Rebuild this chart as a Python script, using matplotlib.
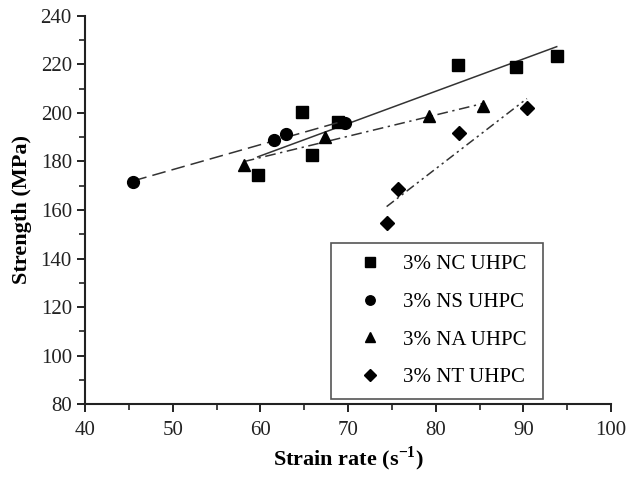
import matplotlib
matplotlib.use("Agg")
import matplotlib.pyplot as plt
import numpy as np
from matplotlib.ticker import MultipleLocator

plt.rcParams['font.family'] = ['Liberation Serif', 'DejaVu Serif']
plt.rcParams['mathtext.fontset'] = 'custom'
plt.rcParams['mathtext.rm'] = 'Liberation Serif'
plt.rcParams['mathtext.bf'] = 'Liberation Serif:bold'

# strain rate (1/s) and dynamic strength (MPa) for each mix
nc_rate = [59.7, 64.8, 65.9, 68.9, 82.5, 89.1, 93.8]
nc_strength = [174.5, 200.3, 182.5, 196.2, 219.6, 218.7, 223.3]
ns_rate = [45.5, 61.6, 62.9, 69.7]
ns_strength = [171.6, 188.6, 191.1, 195.9]
na_rate = [58.1, 67.4, 79.2, 85.4]
na_strength = [178.5, 190.1, 198.6, 203.0]
nt_rate = [74.4, 75.7, 82.6, 90.4]
nt_strength = [154.5, 168.6, 191.5, 201.8]

labels = ["3% NC UHPC", "3% NS UHPC", "3% NA UHPC", "3% NT UHPC"]
markers = ["s", "o", "^", "D"]
msizes = [8.5, 8.5, 9, 7.5]
styles = ["-", (0, (9, 4)), (0, (7, 3, 1.5, 3)), (0, (6, 2.5, 1.5, 2.5, 1.5, 2.5))]

fig = plt.figure(figsize=(6.27, 4.84), dpi=100)
ax = fig.add_axes([0.1356, 0.1647, 0.839, 0.803])

groups = [(nc_rate, nc_strength), (ns_rate, ns_strength),
          (na_rate, na_strength), (nt_rate, nt_strength)]
for (x, y), lab, mk, ms, ls in zip(groups, labels, markers, msizes, styles):
    x = np.array(x)
    y = np.array(y)
    # linear fit over the tested range
    k, b = np.polyfit(x, y, 1)
    xs = np.array([x.min(), x.max()])
    ax.plot(xs, k * xs + b, color="#333333", lw=1.1, linestyle=ls)
    ax.plot(x, y, linestyle="none", marker=mk, ms=ms, color="black",
            label=lab)

ax.set_xlim(40, 100)
ax.set_ylim(80, 240)
ax.xaxis.set_major_locator(MultipleLocator(10))
ax.xaxis.set_minor_locator(MultipleLocator(5))
ax.yaxis.set_major_locator(MultipleLocator(20))
ax.yaxis.set_minor_locator(MultipleLocator(10))

for side in ["top", "right"]:
    ax.spines[side].set_visible(False)
for side in ["left", "bottom"]:
    ax.spines[side].set_linewidth(1.5)
    ax.spines[side].set_color("#222222")

ax.tick_params(which="major", direction="out", length=6, width=1.4,
               labelsize=15, colors="#222222")
ax.tick_params(axis="x", which="major", pad=6)
ax.tick_params(which="minor", direction="out", length=4, width=1.2,
               colors="#222222")

ax.set_xlabel(r"Strain rate (s$^{\mathbf{-1}}$)", fontsize=16, fontweight="bold",
              labelpad=3)
ax.set_ylabel("Strength (MPa)", fontsize=16, fontweight="bold", labelpad=6)

leg = ax.legend(loc="upper left", bbox_to_anchor=(0.467, 0.0196, 0.403, 0.395),
                mode="expand", fontsize=15, frameon=True, fancybox=False,
                framealpha=1, handlelength=2.65, handletextpad=0.25,
                labelspacing=0.87, borderpad=0.55, markerscale=0.8,
                borderaxespad=0)
leg.get_frame().set_edgecolor("#555555")
leg.get_frame().set_linewidth(1.2)

fig.savefig("out.png", dpi=100)
